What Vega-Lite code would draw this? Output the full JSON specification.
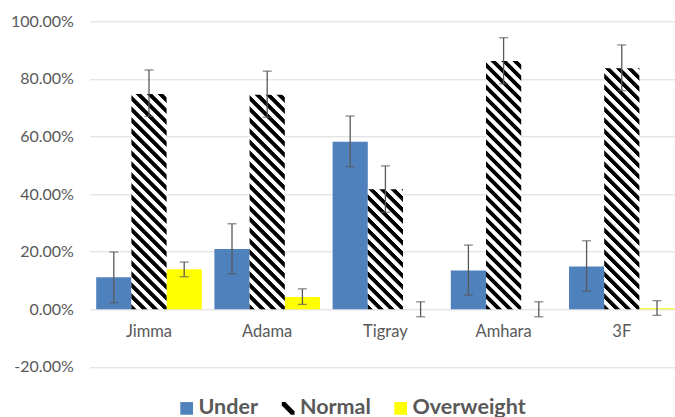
{
  "$schema": "https://vega.github.io/schema/vega-lite/v6.json",
  "autosize": {"type": "none"},
  "padding": {"left": 89.9, "top": 21.3, "right": 0, "bottom": 50.1},
  "width": 585.1,
  "height": 345.6,
  "background": "white",
  "config": {"view": {"stroke": null}, "font": "Lato"},
  "data": {"values": [
    {"Category": "Jimma", "Group": "Under", "Value": 0.111, "Lo": 0.023, "Hi": 0.199},
    {"Category": "Jimma", "Group": "Normal", "Value": 0.748, "Lo": 0.670, "Hi": 0.831},
    {"Category": "Jimma", "Group": "Overweight", "Value": 0.139, "Lo": 0.113, "Hi": 0.164},
    {"Category": "Adama", "Group": "Under", "Value": 0.209, "Lo": 0.123, "Hi": 0.297},
    {"Category": "Adama", "Group": "Normal", "Value": 0.745, "Lo": 0.667, "Hi": 0.827},
    {"Category": "Adama", "Group": "Overweight", "Value": 0.043, "Lo": 0.017, "Hi": 0.071},
    {"Category": "Tigray", "Group": "Under", "Value": 0.582, "Lo": 0.495, "Hi": 0.671},
    {"Category": "Tigray", "Group": "Normal", "Value": 0.417, "Lo": 0.337, "Hi": 0.498},
    {"Category": "Tigray", "Group": "Overweight", "Value": 0.0, "Lo": -0.026, "Hi": 0.026},
    {"Category": "Amhara", "Group": "Under", "Value": 0.135, "Lo": 0.049, "Hi": 0.223},
    {"Category": "Amhara", "Group": "Normal", "Value": 0.862, "Lo": 0.783, "Hi": 0.943},
    {"Category": "Amhara", "Group": "Overweight", "Value": 0.0, "Lo": -0.026, "Hi": 0.026},
    {"Category": "3F", "Group": "Under", "Value": 0.149, "Lo": 0.063, "Hi": 0.238},
    {"Category": "3F", "Group": "Normal", "Value": 0.837, "Lo": 0.759, "Hi": 0.918},
    {"Category": "3F", "Group": "Overweight", "Value": 0.004, "Lo": -0.021, "Hi": 0.030}
  ]},
  "encoding": {
    "x": {
      "field": "Category", "type": "nominal",
      "sort": ["Jimma", "Adama", "Tigray", "Amhara", "3F"],
      "scale": {"range": [0, 591], "paddingInner": 0, "paddingOuter": 0},
      "axis": {"title": null, "offset": -57.6, "domain": false, "ticks": false, "labelPadding": 14, "labelFont": "Lato", "labelFontSize": 16.5, "labelColor": "#595959", "labelAngle": 0}
    },
    "xOffset": {
      "field": "Group", "type": "nominal",
      "sort": ["Under", "Normal", "Overweight"],
      "scale": {"domain": ["Under", "Normal", "Overweight"], "paddingInner": 0, "paddingOuter": 0.179}
    }
  },
  "layer": [
    {
      "transform": [{"filter": "datum.Group !== 'Normal'"}],
      "mark": {"type": "bar"},
      "encoding": {
        "y": {
          "field": "Value", "type": "quantitative", "title": null,
          "scale": {"domain": [-0.2, 1.0], "nice": false, "zero": false},
          "axis": {"values": [-0.2, 0, 0.2, 0.4, 0.6, 0.8, 1.0], "labelExpr": "replace(format(datum.value, '.2%'), '\u2212', '-')", "title": null, "grid": true, "gridColor": "#D9D9D9", "gridWidth": 1, "domain": false, "ticks": false, "labelPadding": 16.5, "labelFont": "Lato", "labelFontSize": 16, "labelColor": "#595959"}
        },
        "color": {
          "field": "Group", "type": "nominal",
          "scale": {"domain": ["Under", "Normal", "Overweight"], "range": ["#4F81BD", "#000000", "#FFFF00"]},
          "legend": {
            "orient": "none", "legendX": 86, "legendY": 376, "direction": "horizontal", "title": null,
            "symbolSize": 161, "symbolStrokeWidth": 0, "symbolOpacity": 1,
            "labelFont": "Lato", "labelFontSize": 21.5, "labelFontWeight": "bold", "labelColor": "#595959",
            "labelOffset": 1.1, "columnPadding": 18.5
          }
        }
      }
    },
    {
      "transform": [{"filter": "datum.Group === 'Normal'"}],
      "mark": {"type": "bar", "fill": {"expr": "{gradient:'linear',x1:0,y1:1,x2:297*bandwidth('xOffset')/(bandwidth('xOffset')*bandwidth('xOffset')+(scale('y',0)-scale('y',datum.Value))*(scale('y',0)-scale('y',datum.Value))),y2:1-297*(scale('y',0)-scale('y',datum.Value))/(bandwidth('xOffset')*bandwidth('xOffset')+(scale('y',0)-scale('y',datum.Value))*(scale('y',0)-scale('y',datum.Value))),stops:[{offset:0,color:'#000'},{offset:0.0156,color:'#000'},{offset:0.0185,color:'#fff'},{offset:0.0341,color:'#fff'},{offset:0.037,color:'#000'},{offset:0.0526,color:'#000'},{offset:0.0556,color:'#fff'},{offset:0.0711,color:'#fff'},{offset:0.0741,color:'#000'},{offset:0.0896,color:'#000'},{offset:0.0926,color:'#fff'},{offset:0.1081,color:'#fff'},{offset:0.1111,color:'#000'},{offset:0.1267,color:'#000'},{offset:0.1296,color:'#fff'},{offset:0.1452,color:'#fff'},{offset:0.1481,color:'#000'},{offset:0.1637,color:'#000'},{offset:0.1667,color:'#fff'},{offset:0.1822,color:'#fff'},{offset:0.1852,color:'#000'},{offset:0.2007,color:'#000'},{offset:0.2037,color:'#fff'},{offset:0.2193,color:'#fff'},{offset:0.2222,color:'#000'},{offset:0.2378,color:'#000'},{offset:0.2407,color:'#fff'},{offset:0.2563,color:'#fff'},{offset:0.2593,color:'#000'},{offset:0.2748,color:'#000'},{offset:0.2778,color:'#fff'},{offset:0.2933,color:'#fff'},{offset:0.2963,color:'#000'},{offset:0.3119,color:'#000'},{offset:0.3148,color:'#fff'},{offset:0.3304,color:'#fff'},{offset:0.3333,color:'#000'},{offset:0.3489,color:'#000'},{offset:0.3519,color:'#fff'},{offset:0.3674,color:'#fff'},{offset:0.3704,color:'#000'},{offset:0.3859,color:'#000'},{offset:0.3889,color:'#fff'},{offset:0.4044,color:'#fff'},{offset:0.4074,color:'#000'},{offset:0.423,color:'#000'},{offset:0.4259,color:'#fff'},{offset:0.4415,color:'#fff'},{offset:0.4444,color:'#000'},{offset:0.46,color:'#000'},{offset:0.463,color:'#fff'},{offset:0.4785,color:'#fff'},{offset:0.4815,color:'#000'},{offset:0.497,color:'#000'},{offset:0.5,color:'#fff'},{offset:0.5156,color:'#fff'},{offset:0.5185,color:'#000'},{offset:0.5341,color:'#000'},{offset:0.537,color:'#fff'},{offset:0.5526,color:'#fff'},{offset:0.5556,color:'#000'},{offset:0.5711,color:'#000'},{offset:0.5741,color:'#fff'},{offset:0.5896,color:'#fff'},{offset:0.5926,color:'#000'},{offset:0.6081,color:'#000'},{offset:0.6111,color:'#fff'},{offset:0.6267,color:'#fff'},{offset:0.6296,color:'#000'},{offset:0.6452,color:'#000'},{offset:0.6481,color:'#fff'},{offset:0.6637,color:'#fff'},{offset:0.6667,color:'#000'},{offset:0.6822,color:'#000'},{offset:0.6852,color:'#fff'},{offset:0.7007,color:'#fff'},{offset:0.7037,color:'#000'},{offset:0.7193,color:'#000'},{offset:0.7222,color:'#fff'},{offset:0.7378,color:'#fff'},{offset:0.7407,color:'#000'},{offset:0.7563,color:'#000'},{offset:0.7593,color:'#fff'},{offset:0.7748,color:'#fff'},{offset:0.7778,color:'#000'},{offset:0.7933,color:'#000'},{offset:0.7963,color:'#fff'},{offset:0.8119,color:'#fff'},{offset:0.8148,color:'#000'},{offset:0.8304,color:'#000'},{offset:0.8333,color:'#fff'},{offset:0.8489,color:'#fff'},{offset:0.8519,color:'#000'},{offset:0.8674,color:'#000'},{offset:0.8704,color:'#fff'},{offset:0.8859,color:'#fff'},{offset:0.8889,color:'#000'},{offset:0.9044,color:'#000'},{offset:0.9074,color:'#fff'},{offset:0.923,color:'#fff'},{offset:0.9259,color:'#000'},{offset:0.9415,color:'#000'},{offset:0.9444,color:'#fff'},{offset:0.96,color:'#fff'},{offset:0.963,color:'#000'},{offset:0.9785,color:'#000'},{offset:0.9815,color:'#fff'},{offset:1,color:'#fff'}]}"}},
      "encoding": {
        "y": {"field": "Value", "type": "quantitative", "title": null, "scale": {"domain": [-0.2, 1.0], "nice": false, "zero": false},
          "axis": {"values": [-0.2, 0, 0.2, 0.4, 0.6, 0.8, 1.0], "labelExpr": "replace(format(datum.value, '.2%'), '\u2212', '-')", "title": null, "grid": true, "gridColor": "#D9D9D9", "gridWidth": 1, "domain": false, "ticks": false, "labelPadding": 16.5, "labelFont": "Lato", "labelFontSize": 16, "labelColor": "#595959"}}
      }
    },
    {
      "mark": {"type": "point", "filled": true, "opacity": 0},
      "encoding": {
        "y": {"field": "Value", "type": "quantitative", "title": null, "scale": {"domain": [-0.2, 1.0], "nice": false, "zero": false},
          "axis": {"values": [-0.2, 0, 0.2, 0.4, 0.6, 0.8, 1.0], "labelExpr": "replace(format(datum.value, '.2%'), '\u2212', '-')", "title": null, "grid": true, "gridColor": "#D9D9D9", "gridWidth": 1, "domain": false, "ticks": false, "labelPadding": 16.5, "labelFont": "Lato", "labelFontSize": 16, "labelColor": "#595959"}},
        "color": {
          "field": "Group", "type": "nominal",
          "scale": {"domain": ["Under", "Normal", "Overweight"], "range": ["#4F81BD", "#000000", "#FFFF00"]},
          "legend": {
            "orient": "none", "legendX": 86, "legendY": 376, "direction": "horizontal", "title": null,
            "symbolSize": 161, "symbolStrokeWidth": 0, "symbolOpacity": 1,
            "labelFont": "Lato", "labelFontSize": 21.5, "labelFontWeight": "bold", "labelColor": "#595959",
            "labelOffset": 1.1, "columnPadding": 18.5
          }
        },
        "shape": {
          "field": "Group", "type": "nominal",
          "scale": {"domain": ["Under", "Normal", "Overweight"], "range": ["square", "M-1,-1L-0.45,-1L1,0.45L1,1L0.45,1L-1,-0.45Z", "square"]},
          "legend": {
            "orient": "none", "legendX": 86, "legendY": 376, "direction": "horizontal", "title": null,
            "symbolSize": 161, "symbolStrokeWidth": 0, "symbolOpacity": 1,
            "labelFont": "Lato", "labelFontSize": 21.5, "labelFontWeight": "bold", "labelColor": "#595959",
            "labelOffset": 1.1, "columnPadding": 18.5
          }
        }
      }
    },
    {
      "mark": {"type": "rule", "color": "#595959", "strokeWidth": 1.3},
      "encoding": {
        "y": {"field": "Lo", "type": "quantitative", "title": null, "scale": {"domain": [-0.2, 1.0], "nice": false, "zero": false},
          "axis": {"values": [-0.2, 0, 0.2, 0.4, 0.6, 0.8, 1.0], "labelExpr": "replace(format(datum.value, '.2%'), '\u2212', '-')", "title": null, "grid": true, "gridColor": "#D9D9D9", "gridWidth": 1, "domain": false, "ticks": false, "labelPadding": 16.5, "labelFont": "Lato", "labelFontSize": 16, "labelColor": "#595959"}},
        "y2": {"field": "Hi"}
      }
    },
    {
      "mark": {"type": "tick", "orient": "horizontal", "size": 9, "thickness": 1.3, "color": "#595959"},
      "encoding": {
        "y": {"field": "Lo", "type": "quantitative", "title": null, "scale": {"domain": [-0.2, 1.0], "nice": false, "zero": false},
          "axis": {"values": [-0.2, 0, 0.2, 0.4, 0.6, 0.8, 1.0], "labelExpr": "replace(format(datum.value, '.2%'), '\u2212', '-')", "title": null, "grid": true, "gridColor": "#D9D9D9", "gridWidth": 1, "domain": false, "ticks": false, "labelPadding": 16.5, "labelFont": "Lato", "labelFontSize": 16, "labelColor": "#595959"}}
      }
    },
    {
      "mark": {"type": "tick", "orient": "horizontal", "size": 9, "thickness": 1.3, "color": "#595959"},
      "encoding": {
        "y": {"field": "Hi", "type": "quantitative", "title": null, "scale": {"domain": [-0.2, 1.0], "nice": false, "zero": false},
          "axis": {"values": [-0.2, 0, 0.2, 0.4, 0.6, 0.8, 1.0], "labelExpr": "replace(format(datum.value, '.2%'), '\u2212', '-')", "title": null, "grid": true, "gridColor": "#D9D9D9", "gridWidth": 1, "domain": false, "ticks": false, "labelPadding": 16.5, "labelFont": "Lato", "labelFontSize": 16, "labelColor": "#595959"}}
      }
    }
  ]
}
